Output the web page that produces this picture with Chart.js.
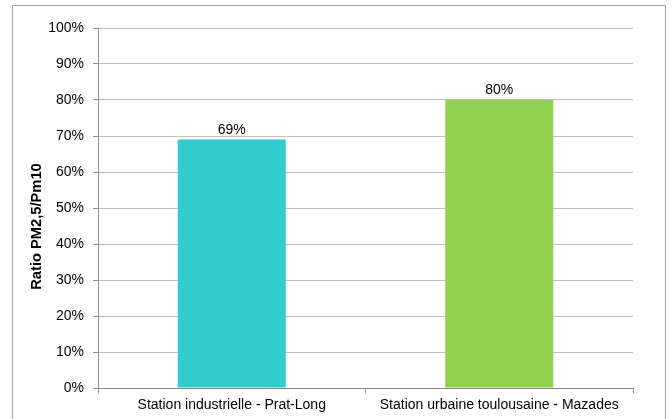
<!DOCTYPE html>
<html>
<head>
<meta charset="utf-8">
<script src="https://cdn.jsdelivr.net/npm/chart.js@4/dist/chart.umd.min.js"></script>
<style>
html,body{margin:0;padding:0;background:#fff;}
#wrap{width:672px;height:419px;position:relative;}
</style>
</head>
<body>
<div id="wrap"><canvas id="c" width="672" height="419"></canvas></div>
<script>
const categories = ["Station industrielle - Prat-Long", "Station urbaine toulousaine - Mazades"];
const ratioValues = [69, 80];
const barColors = ["#33CCCC", "#92D050"];
const yTickMin = 0, yTickMax = 100, yTickStep = 10;
const yAxisTitle = "Ratio PM2,5/Pm10";

const FONT = "'Liberation Sans', Arial, sans-serif";
const AXIS = "#8C8C8C";
const GRID = "#BFBFBF";

const framePlugin = {
  id: 'frame',
  beforeDraw(chart) {
    const ctx = chart.ctx;
    ctx.save();
    ctx.fillStyle = '#fff';
    ctx.fillRect(0, 0, chart.width, chart.height);
    ctx.strokeStyle = '#A6A6A6';
    ctx.lineWidth = 1;
    ctx.strokeRect(12.5, 5.5, 653, 430);
    ctx.restore();
  },
  afterDraw(chart) {
    const ctx = chart.ctx;
    ctx.save();
    ctx.translate(36.5, 226.5);
    ctx.rotate(-Math.PI / 2);
    ctx.font = "bold 14.7px " + FONT;
    ctx.fillStyle = '#000';
    ctx.textAlign = 'center';
    ctx.textBaseline = 'middle';
    ctx.fillText(yAxisTitle, 0, 0);
    ctx.restore();
  }
};

const labelPlugin = {
  id: 'barLabels',
  afterDatasetsDraw(chart) {
    const ctx = chart.ctx;
    ctx.save();
    ctx.font = "14px " + FONT;
    ctx.fillStyle = '#000';
    ctx.textAlign = 'center';
    ctx.textBaseline = 'alphabetic';
    chart.getDatasetMeta(0).data.forEach((el, i) => {
      const v = chart.data.datasets[0].data[i];
      ctx.fillText(v + '%', el.x, el.y - 6);
    });
    ctx.restore();
  }
};

new Chart(document.getElementById('c'), {
  type: 'bar',
  data: {
    labels: categories,
    datasets: [{
      data: ratioValues,
      backgroundColor: barColors,
      borderWidth: 0,
      barPercentage: 0.404,
      categoryPercentage: 1.0
    }]
  },
  options: {
    responsive: false,
    animation: false,
    devicePixelRatio: 1,
    layout: { padding: { left: 0, top: 28, right: 39, bottom: 0 } },
    plugins: { legend: { display: false }, tooltip: { enabled: false } },
    scales: {
      x: {
        afterFit(s) { s.height = 31; },
        grid: { display: true, drawOnChartArea: false, drawTicks: true, tickLength: 5, color: AXIS, offset: true },
        border: { color: AXIS },
        ticks: { color: '#000', font: { family: FONT, size: 14 }, padding: 4, maxRotation: 0 }
      },
      y: {
        min: yTickMin, max: yTickMax,
        afterFit(s) { s.width = 98; },
        grid: { color: GRID, tickColor: AXIS, tickLength: 5 },
        border: { color: AXIS },
        ticks: { stepSize: yTickStep, color: '#000', font: { family: FONT, size: 14 }, padding: 9,
                 callback: v => v + '%' }
      }
    }
  },
  plugins: [framePlugin, labelPlugin]
});
</script>
</body>
</html>
